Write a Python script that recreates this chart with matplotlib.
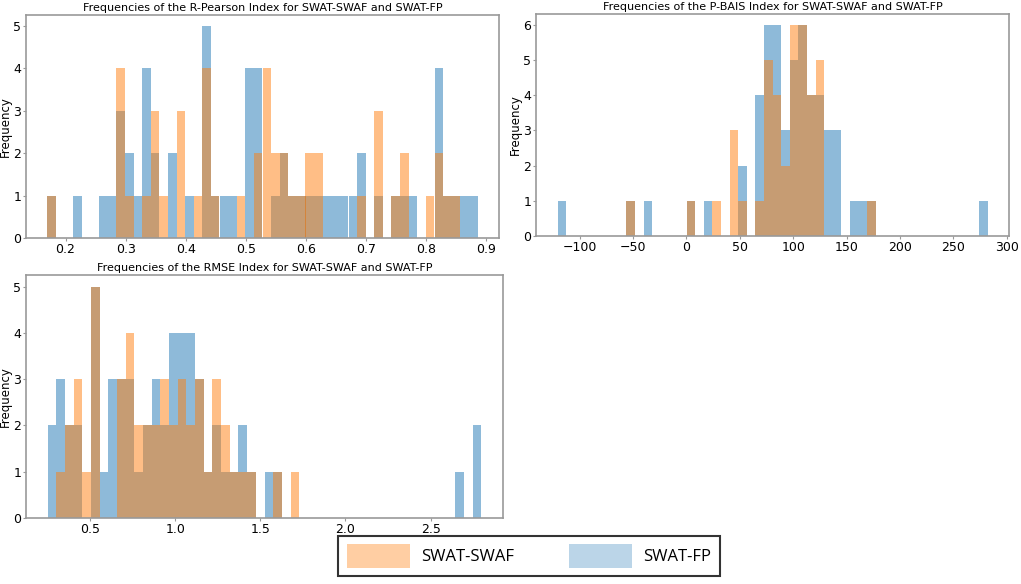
import numpy as np
import matplotlib
matplotlib.use("Agg")
import matplotlib.pyplot as plt
from matplotlib.patches import Patch

# bin counts, 50 shared bins per panel
r_lo, r_hi = 0.170, 0.886
r_swaf = [1, 0, 0, 0, 0, 0, 0, 0, 4, 1, 0, 1, 3, 1, 0, 3, 0, 1, 4, 1,
          0, 0, 1, 0, 2, 4, 2, 2, 1, 1, 2, 2, 0, 0, 0, 0, 1, 0, 3, 0,
          1, 2, 0, 0, 1, 2, 1, 1, 0, 0]
r_fp = [1, 0, 0, 1, 0, 0, 1, 1, 3, 2, 1, 4, 2, 0, 2, 0, 1, 0, 5, 1,
        1, 1, 0, 4, 4, 0, 1, 2, 1, 1, 1, 1, 1, 1, 1, 1, 2, 0, 1, 0,
        1, 1, 1, 0, 0, 4, 1, 1, 1, 1]

p_lo, p_hi = -120.6, 281.9
p_swaf = [0, 0, 0, 0, 0, 0, 0, 0, 1, 0, 0, 0, 0, 0, 0, 1, 0, 0, 1, 0,
          3, 1, 0, 1, 5, 4, 2, 6, 6, 4, 5, 0, 0, 0, 0, 0, 1, 0, 0, 0,
          0, 0, 0, 0, 0, 0, 0, 0, 0, 0]
p_fp = [1, 0, 0, 0, 0, 0, 0, 0, 1, 0, 1, 0, 0, 0, 0, 1, 0, 1, 0, 0,
        0, 2, 0, 4, 6, 6, 3, 5, 6, 4, 4, 3, 3, 0, 1, 1, 1, 0, 0, 0,
        0, 0, 0, 0, 0, 0, 0, 0, 0, 1]

e_lo, e_hi = 0.251, 2.798
e_swaf = [0, 1, 2, 3, 1, 5, 0, 0, 3, 4, 2, 2, 2, 3, 2, 3, 2, 3, 1, 3,
          2, 1, 1, 1, 0, 0, 1, 0, 1, 0, 0, 0, 0, 0, 0, 0, 0, 0, 0, 0,
          0, 0, 0, 0, 0, 0, 0, 0, 0, 0]
e_fp = [2, 3, 2, 2, 0, 5, 1, 3, 3, 3, 1, 2, 3, 2, 4, 4, 4, 3, 1, 2,
        1, 1, 2, 1, 0, 1, 1, 0, 0, 0, 0, 0, 0, 0, 0, 0, 0, 0, 0, 0,
        0, 0, 0, 0, 0, 0, 0, 1, 0, 2]

titles = ["Frequencies of the R-Pearson Index for SWAT-SWAF and SWAT-FP",
          "Frequencies of the P-BAIS Index for SWAT-SWAF and SWAT-FP",
          "Frequencies of the RMSE Index for SWAT-SWAF and SWAT-FP"]

W, H = 1021, 584
fig = plt.figure(figsize=(W / 100, H / 100), dpi=100)


def box(l, t, r, b):
    return [l / W, 1 - b / H, (r - l) / W, (b - t) / H]


axes = [fig.add_axes(box(26, 15, 499, 238)),
        fig.add_axes(box(536, 14, 1009, 236)),
        fig.add_axes(box(26, 275, 503, 518))]
panels = [(r_lo, r_hi, r_swaf, r_fp), (p_lo, p_hi, p_swaf, p_fp),
          (e_lo, e_hi, e_swaf, e_fp)]

for ax, (lo, hi, swaf, fp), title in zip(axes, panels, titles):
    edges = np.linspace(lo, hi, 51)
    mids = (edges[:-1] + edges[1:]) / 2
    ax.hist(mids, bins=edges, weights=fp, color="tab:blue", alpha=0.5)
    ax.hist(mids, bins=edges, weights=swaf, color="tab:orange", alpha=0.5)
    ax.set_title(title, fontsize=8, pad=3)
    ax.set_ylabel("Frequency", fontsize=8.5, labelpad=1)
    ax.tick_params(labelsize=9, length=2, color="#999999", pad=1.5)
    for s in ax.spines.values():
        s.set_color("#999999")
        s.set_linewidth(1.2)

handles = [Patch(facecolor="tab:orange", alpha=0.38, label="SWAT-SWAF"),
           Patch(facecolor="tab:blue", alpha=0.3, label="SWAT-FP")]
leg = fig.legend(handles=handles, loc="center", bbox_to_anchor=(0.518, 0.048),
                 ncol=2, fancybox=False, edgecolor="#333333", framealpha=1,
                 prop={"family": "Open Sans", "size": 12},
                 handlelength=3.8, handleheight=1.85, handletextpad=0.66,
                 columnspacing=3.3, borderpad=0.5)
leg.get_frame().set_linewidth(1.5)

fig.savefig("out.png", dpi=100)
